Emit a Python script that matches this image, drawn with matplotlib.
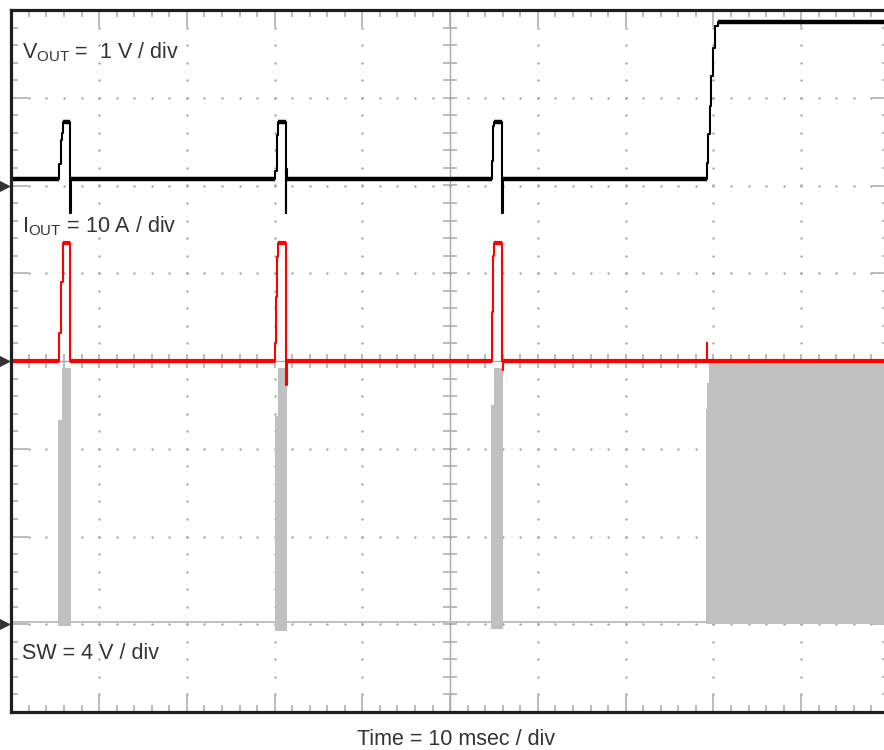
import numpy as np
import matplotlib
matplotlib.use("Agg")
import matplotlib.pyplot as plt

plt.rcParams['font.family'] = ['Liberation Sans', 'DejaVu Sans']
plt.rcParams['mathtext.fontset'] = 'custom'
plt.rcParams['mathtext.rm'] = 'Liberation Sans'
plt.rcParams['mathtext.it'] = 'Liberation Sans'

# ---------------- data (time in ms, step-post breakpoints) ----------------
# Vout [V], 1 V/div, ground marker at +2 div
vout_t = [0, 5.45, 5.68, 5.80, 5.91, 6.70, 6.76,
          30.0, 30.23, 30.34, 31.25, 31.31, 31.40,
          54.74, 54.89, 55.0, 55.91, 55.97,
          79.24, 79.43, 79.55, 79.77, 80.0, 80.23, 80.57, 100]
vout_v = [0.07, 0.25, 0.52, 0.60, 0.72, -0.31, 0.07,
          0.17, 0.57, 0.72, -0.31, 0.19, 0.07,
          0.28, 0.68, 0.72, -0.31, 0.07,
          0.26, 0.59, 0.91, 1.25, 1.57, 1.82, 1.86, 1.86]

# Iout [A], 10 A/div, ground marker at 0 div
iout_t = [0, 5.45, 5.68, 5.85, 6.70,
          30.0, 30.11, 30.23, 30.34, 31.25, 31.31, 31.40,
          54.74, 54.89, 55.05, 55.91, 55.97, 56.05,
          79.24, 79.30, 100]
iout_a = [0, 3.2, 9.0, 13.4, 0,
          2.0, 7.3, 11.8, 13.4, 0, -2.7, 0,
          5.6, 12.0, 13.4, 0, -1.0, 0,
          2.0, 0, 0]

# SW [V], 4 V/div, ground marker at -3 div (switching envelope)
sw_t = [0, 5.31, 5.76, 6.78, 30.0, 30.34, 31.36, 54.70, 54.95, 56.0,
        79.13, 79.24, 79.51, 100]
sw_hi = [0.1, 9.3, 11.7, 0.1, 9.5, 11.7, 0.1, 10.0, 11.7, 0.1,
         9.8, 11.0, 11.9, 11.9]
sw_lo = [0.1, -0.1, -0.1, 0.1, -0.3, -0.3, 0.1, -0.2, -0.2, 0.1,
         0.0, 0.0, 0.0, 0.0]

VOUT_SCALE, VOUT_OFF = 1.0, 2.0
IOUT_SCALE, IOUT_OFF = 10.0, 0.0
SW_SCALE, SW_OFF = 4.0, -3.0

# ---------------- figure ----------------
W, H = 884, 750
fig = plt.figure(figsize=(W / 100, H / 100), dpi=100)
ax = fig.add_axes([11.3 / W, 38 / H, 877.7 / W, 702 / H])
ax.set_xlim(0, 100)
ax.set_ylim(-4, 4)

gc = '#a8a8a8'
ax.set_xticks(np.arange(0, 101, 10))
ax.set_xticks(np.arange(0, 100.01, 2), minor=True)
ax.set_yticks(np.arange(-4, 4.01, 1))
ax.set_yticks(np.arange(-4, 4.01, 0.2), minor=True)
ax.tick_params(which='both', direction='in', top=True, right=True,
               labelbottom=False, labelleft=False, color=gc)
ax.tick_params(which='major', length=12.5, width=1.1)
ax.tick_params(which='minor', length=5, width=1.1)
for s in ax.spines.values():
    s.set_linewidth(2.3)
    s.set_color('#1e1e1e')
    s.set_zorder(10)

# center cross
ax.axvline(50, color=gc, lw=1.0, zorder=1)
ax.axhline(0, color=gc, lw=1.0, zorder=1)
xm = np.arange(2, 100, 2)
ym = np.arange(-3.8, 4, 0.2)
ax.plot(np.full(len(ym), 50), ym, ls='none', marker='_', ms=10, mew=1.1, color=gc, zorder=1)
ax.plot(xm, np.zeros(len(xm)), ls='none', marker='|', ms=10, mew=1.1, color=gc, zorder=1)

# dotted graticule
for gx in [10, 20, 30, 40, 60, 70, 80, 90]:
    ax.plot(np.full(len(ym), gx), ym, ls='none', marker='o', ms=1.7, mew=0, color='#a0a0a0', zorder=1)
for gy in [-3, -2, -1, 1, 2, 3]:
    ax.plot(xm, np.full(len(xm), gy), ls='none', marker='o', ms=1.7, mew=0, color='#a0a0a0', zorder=1)


def trace(t, v, scale, off, color, thin, thick, z):
    t = np.asarray(t, float)
    y = np.asarray(v, float) / scale + off
    ax.step(t, y, where='post', color=color, lw=thin, zorder=z)
    # plateaus (long flat segments) appear thicker on the scope
    for i in range(len(t) - 1):
        if t[i + 1] - t[i] > 0.5:
            ax.plot([t[i], t[i + 1]], [y[i], y[i]], color=color, lw=thick,
                    solid_capstyle='butt', zorder=z)


# traces
sw_hi_d = np.array(sw_hi) / SW_SCALE + SW_OFF
sw_lo_d = np.array(sw_lo) / SW_SCALE + SW_OFF
ax.fill_between(sw_t, sw_lo_d, sw_hi_d, step='post', color='#c0c0c0', lw=0, zorder=3)
ax.plot([0, 100], [0.1 / SW_SCALE + SW_OFF] * 2, color='#c0c0c0', lw=1.4, zorder=3)

trace(iout_t, iout_a, IOUT_SCALE, IOUT_OFF, '#ff0000', 1.5, 3.0, 4)
trace(vout_t, vout_v, VOUT_SCALE, VOUT_OFF, '#000000', 1.5, 3.2, 5)

# ground markers
ax.plot([-0.8] * 3, [VOUT_OFF, IOUT_OFF, SW_OFF], ls='none', marker='>', ms=7,
        color='#333333', clip_on=False, zorder=11)

# labels
tc = '#333333'
fs = 15.5
ax.text(1.22, 3.45, r'$\mathrm{V_{OUT}}$ =  1 V / div', fontsize=fs, color=tc, va='baseline', ha='left', zorder=12)
ax.text(1.22, 1.46, r'$\mathrm{I_{OUT}}$ = 10 A / div', fontsize=fs, color=tc, va='baseline', ha='left', zorder=12)
ax.text(1.22, -3.40, 'SW = 4 V / div', fontsize=fs, color=tc, va='baseline', ha='left', zorder=12)
fig.text(456.5 / W, 5 / H, 'Time = 10 msec / div', fontsize=fs, color=tc, ha='center', va='baseline')

fig.savefig('out.png', dpi=100)
